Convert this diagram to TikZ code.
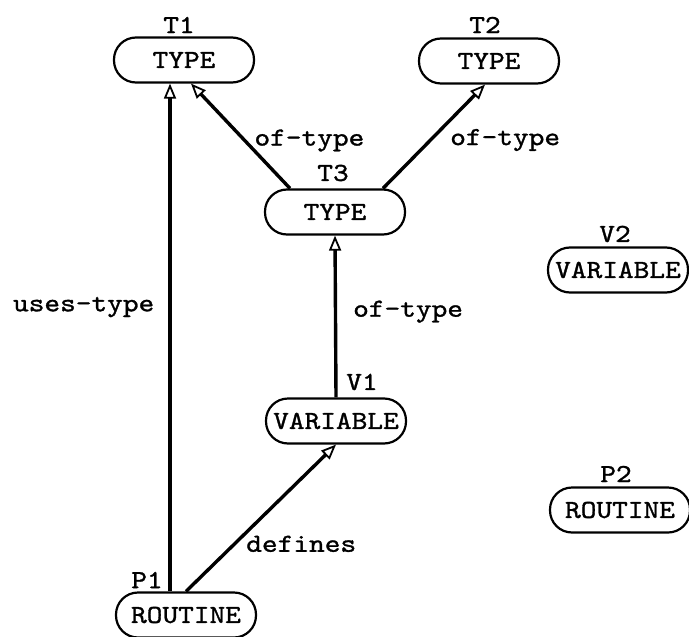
\documentclass[tikz,border=0pt]{standalone}
\usepackage{fontspec}
\setmonofont{lmmono10-regular.otf}[FakeStretch=1.15, FakeBold=1.2]
\usetikzlibrary{positioning}
\usetikzlibrary{calc}
\usetikzlibrary{arrows.meta}

\begin{document}
\begin{tikzpicture}[
    x=0.5pt, y=-0.5pt,
    entity/.style={rectangle, rounded corners=11pt, draw, line width=1.1pt, minimum width=70pt, minimum height=22.5pt, inner sep=2pt, font=\fontsize{13}{15}\selectfont\ttfamily},
    tag/.style={inner sep=1pt, font=\fontsize{13}{15}\selectfont\ttfamily},
    rel/.style={draw, line width=1.7pt, -{Triangle[open, length=7.5pt, width=6pt, line width=0.9pt]}},
    relname/.style={inner sep=2pt, font=\fontsize{13}{15}\selectfont\ttfamily}
]
\useasboundingbox (0,0) rectangle (689,636);

% Define node positions
\node[entity] (T1) at (184, 60) {TYPE};
\node[entity] (T2) at (489, 61) {TYPE};
\node[entity] (T3) at (335, 212) {TYPE};
\node[entity] (V1) at (336, 421) {VARIABLE};
\node[entity] (V2) at (618, 270) {VARIABLE};
\node[entity] (P2) at (620, 510) {ROUTINE};
\node[entity] (P1) at (186, 615) {ROUTINE};

% Add instance names
\node[tag] (T1name) at (179, 25) {T1};
\node[tag] (T2name) at (485, 25) {T2};
\node[tag] (T3name) at (333, 173) {T3};
\node[tag] (V1name) at (362, 382) {V1};
\node[tag] (V2name) at (615, 234) {V2};
\node[tag] (P2name) at (616, 474) {P2};
\node[tag] (P1name) at (147, 580) {P1};

% Draw relations with names
\draw[rel] ($(P1.north)+(-16,0)$) -- ($(T1.south)+(-14,0)$) node[relname, pos=0.56, left=5pt] (usesT1) {uses-type};
\draw[rel] ($(T3.north)+(-45,0)$) -- ($(T1.south)+(7,0)$) node[relname, pos=0.457, anchor=west, xshift=2pt] (ofT1) {of-type};
\draw[rel] ($(T3.north)+(48,0)$) -- ($(T2.south)+(-4,0)$) node[relname, pos=0.466, anchor=west, xshift=7pt] (ofT2) {of-type};
\draw[rel] (V1.north) -- (T3.south) node[relname, pos=0.53, anchor=west, xshift=6pt] (ofT3) {of-type};
\draw[rel] (P1.north) -- (V1.south) node[relname, pos=0.324, anchor=west, xshift=3pt] (defV1) {defines};

\end{tikzpicture}
\end{document}
